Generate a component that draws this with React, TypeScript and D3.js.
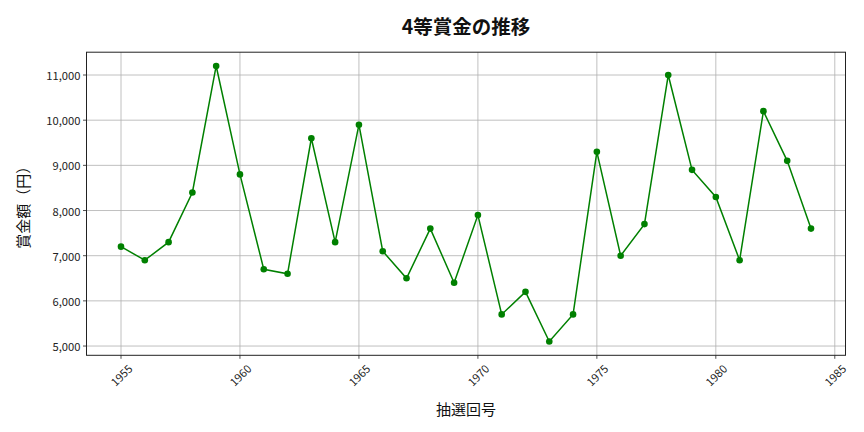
import React from "react";
import * as d3 from "d3";

const years = [1955,1956,1957,1958,1959,1960,1961,1962,1963,1964,1965,1966,1967,1968,1969,1970,1971,1972,1973,1974,1975,1976,1977,1978,1979,1980,1981,1982,1983,1984];
const prizes = [7200,6900,7300,8400,11200,8800,6700,6600,9600,7300,9900,7100,6500,7600,6400,7900,5700,6200,5100,5700,9300,7000,7700,11000,8900,8300,6900,10200,9100,7600];
const xTicks = [1955,1960,1965,1970,1975,1980,1985];
const yTicks = [5000,6000,7000,8000,9000,10000,11000];
const title = "4等賞金の推移";
const xLabel = "抽選回号";
const yLabel = "賞金額（円）";

const W = 864, H = 432;
const M = { left: 86.5, right: 845.5, top: 52.2, bottom: 355.3 };
const FONT = "'Noto Sans CJK JP', 'Noto Sans', sans-serif";

export default function App() {
  const xMin = d3.min(years)!, xMax = d3.max(years)!;
  const yMin = d3.min(prizes)!, yMax = d3.max(prizes)!;
  const xp = (xMax - xMin) * 0.05, yp = (yMax - yMin) * 0.05;
  const x = d3.scaleLinear().domain([xMin - xp, xMax + xp]).range([M.left, M.right]);
  const y = d3.scaleLinear().domain([yMin - yp, yMax + yp]).range([M.bottom, M.top]);
  const line = d3.line<number>().x((_, i) => x(years[i])).y((d) => y(d));
  const fmt = d3.format(",");
  return (
    <svg width={W} height={H} style={{ position: "absolute", left: 0, top: 0, background: "#fff" }} fontFamily={FONT}>
      <rect x={0} y={0} width={W} height={H} fill="#fff" />
      {xTicks.map((t) => (
        <line key={"gx" + t} x1={x(t)} x2={x(t)} y1={M.top} y2={M.bottom} stroke="#b0b0b0" strokeWidth={0.8} />
      ))}
      {yTicks.map((t) => (
        <line key={"gy" + t} x1={M.left} x2={M.right} y1={y(t)} y2={y(t)} stroke="#b0b0b0" strokeWidth={0.8} />
      ))}
      <path d={line(prizes) || ""} fill="none" stroke="green" strokeWidth={1.5} />
      {prizes.map((v, i) => (
        <circle key={i} cx={x(years[i])} cy={y(v)} r={3.3} fill="green" />
      ))}
      <rect x={M.left} y={M.top} width={M.right - M.left} height={M.bottom - M.top} fill="none" stroke="#222" strokeWidth={1} />
      {xTicks.map((t) => (
        <g key={"tx" + t}>
          <line x1={x(t)} x2={x(t)} y1={M.bottom} y2={M.bottom + 3.5} stroke="#222" strokeWidth={0.8} />
          <text
            transform={`translate(${x(t)},${M.bottom + 19.5}) rotate(-45)`}
            textAnchor="middle"
            dominantBaseline="central"
            fontSize={11.2}
            fill="#222"
          >
            {t}
          </text>
        </g>
      ))}
      {yTicks.map((t) => (
        <g key={"ty" + t}>
          <line x1={M.left - 3.5} x2={M.left} y1={y(t)} y2={y(t)} stroke="#222" strokeWidth={0.8} />
          <text x={M.left - 6} y={y(t)} textAnchor="end" dominantBaseline="central" fontSize={11.2} fill="#222">
            {fmt(t)}
          </text>
        </g>
      ))}
      <text x={(M.left + M.right) / 2} y={25} textAnchor="middle" dominantBaseline="central" fontSize={19.5} fontWeight="bold" fill="#111">
        {title}
      </text>
      <text x={(M.left + M.right) / 2} y={408} textAnchor="middle" dominantBaseline="central" fontSize={15} fill="#111">
        {xLabel}
      </text>
      <text transform={`translate(22,${(M.top + M.bottom) / 2}) rotate(-90)`} textAnchor="middle" dominantBaseline="central" fontSize={15} fill="#111">
        {yLabel}
      </text>
    </svg>
  );
}
